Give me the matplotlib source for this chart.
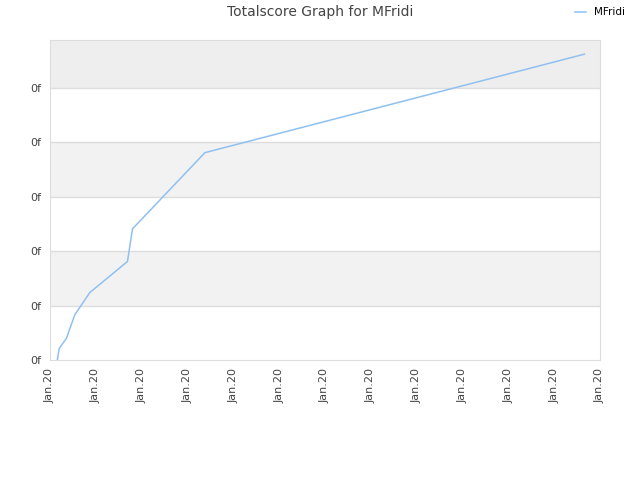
import numpy as np
import matplotlib
matplotlib.use("Agg")
import matplotlib.pyplot as plt

# readings from the reference (x in tick units, y in grid units)
days = [0.16, 0.20, 0.36, 0.54, 0.87, 1.69, 1.80, 3.38, 11.66]
score = [0.0, 0.21, 0.40, 0.83, 1.24, 1.81, 2.41, 3.81, 5.62]
x_labels = ["Jan.20"] * 13
y_labels = ["0f"] * 6

fig = plt.figure(figsize=(6.4, 4.8), dpi=100)
ax = fig.add_axes([50/640, 120/480, 550/640, 320/480])

ax.set_xlim(0, 12)
ax.set_ylim(0, 5.88)

# alternating bands
bands = [(1, 2, "#f2f2f2"), (3, 4, "#f2f2f2"), (5, 5.88, "#eeeeee")]
for lo, hi, c in bands:
    ax.axhspan(lo, hi, color=c, zorder=0, lw=0)
for yv in range(1, 6):
    ax.axhline(yv, color="#dddddd", lw=1, zorder=1)

ax.plot(days, score, color="#90c0f0", lw=1.1, label="MFridi", zorder=3)

ax.set_xticks(np.arange(13))
ax.set_xticklabels(x_labels, rotation=90, fontsize=8, color="#444444")
ax.set_yticks(np.arange(6))
ax.set_yticklabels(y_labels, fontsize=8, color="#444444")
ax.tick_params(length=0, pad=6)

for s in ax.spines.values():
    s.set_color("#dddddd")

fig.suptitle("Totalscore Graph for MFridi", x=0.5, y=0.99, fontsize=10, color="#444444")
fig.legend(loc="upper left", bbox_to_anchor=(568/640, 1.0), frameon=False, fontsize=7.5,
           handlelength=1.0, handletextpad=0.8, borderaxespad=0.3)

fig.savefig("out.png", dpi=100)
